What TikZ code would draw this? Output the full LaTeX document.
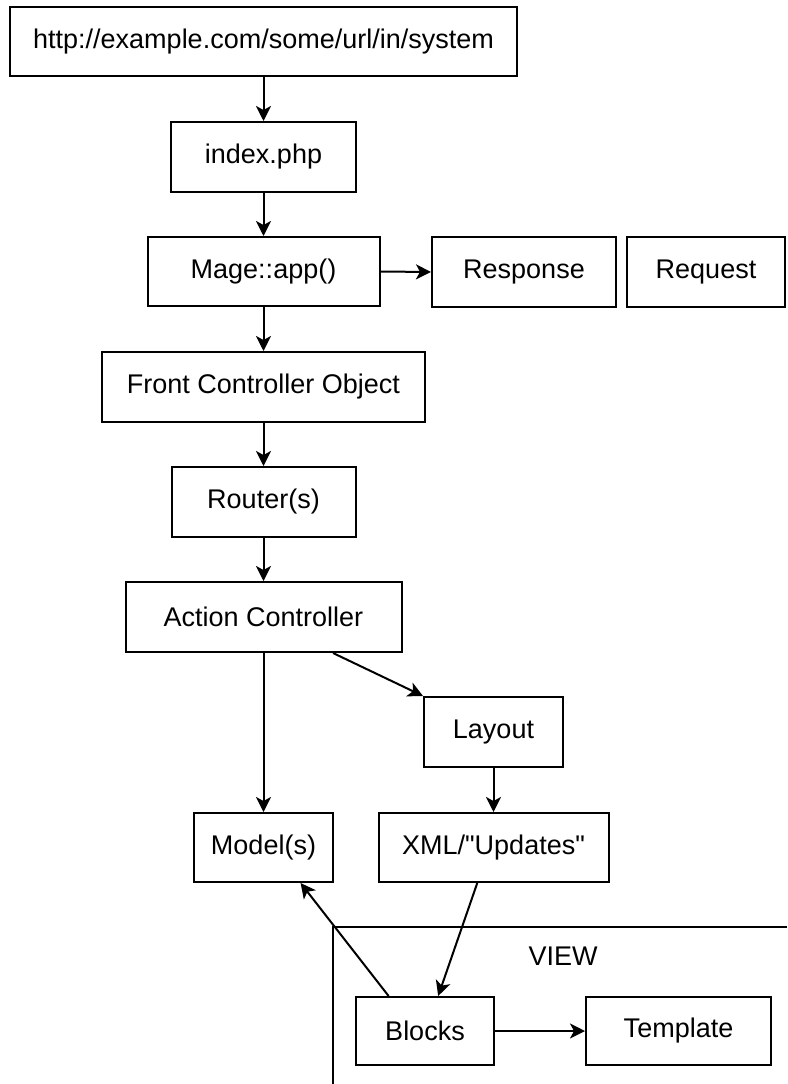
\documentclass[tikz,border=0pt]{standalone}
\usepackage{fontspec}
\setmainfont{Liberation Sans}[Ligatures=TeXOff]
\usetikzlibrary{arrows.meta,calc}
\tikzset{
  box/.style={draw=black, line width=2pt, inner sep=0pt, align=center,
    font=\fontsize{27}{32}\selectfont, text=black},
  arr/.style={line width=2pt, -{Stealth[length=15pt,width=15pt,inset=4pt]}},
  plain/.style={line width=2pt},
}
\begin{document}
\begin{tikzpicture}[x=1pt,y=-1pt]
\useasboundingbox[fill=white] (0,0) rectangle (787,1084);
% nodes
\node[box, minimum width=507pt, minimum height=69pt] (url) at (263.5,41.5) {http://example.com/some/url/in/system};
\node[box, minimum width=185pt, minimum height=70pt] (index) at (263.5,157) {index.php};
\node[box, minimum width=232pt, minimum height=69pt] (mage) at (263.5,271.5) {Mage::app()};
\node[box, minimum width=184pt, minimum height=70pt] (response) at (524,272) {Response};
\node[box, minimum width=158pt, minimum height=70pt] (request) at (706,272) {Request};
\node[box, minimum width=323pt, minimum height=70pt] (front) at (263.5,387) {Front Controller Object};
\node[box, minimum width=184pt, minimum height=70pt] (router) at (263.5,502) {Router(s)};
\node[box, minimum width=276pt, minimum height=70pt] (action) at (263.5,617) {Action Controller};
\node[box, minimum width=139pt, minimum height=70pt] (layout) at (493.5,732) {Layout};
\node[box, minimum width=139pt, minimum height=69pt] (model) at (263.5,847.5) {Model(s)};
\node[box, minimum width=230pt, minimum height=69pt] (xml) at (493.5,847.5) {XML/"Updates"};
\node[box, minimum width=138pt, minimum height=68pt] (blocks) at (425,1031) {Blocks};
\node[box, minimum width=185pt, minimum height=68pt] (template) at (678.5,1031) {Template};
% VIEW container (open at right and bottom)
\coordinate (viewtr) at (787,927);
\coordinate (viewtl) at (333,927);
\coordinate (viewbl) at (333,1084);
\draw[plain] (viewtr) -- (viewtl) -- (viewbl);
\node[font=\fontsize{27}{32}\selectfont, text=black] (viewlabel) at (563,956) {VIEW};
% connectors
\draw[arr] (url.south) -- (index.north);
\draw[arr] (index.south) -- (mage.north);
\draw[arr] (mage.east) -- (response.west);
\draw[arr] (mage.south) -- (front.north);
\draw[arr] (front.south) -- (router.north);
\draw[arr] (router.south) -- (action.north);
\draw[arr] (action.south) -- (model.north);
\draw[arr] ($(action.south west)!0.75!(action.south east)$) -- (layout.north west);
\draw[arr] (layout.south) -- (xml.north);
\draw[arr] ($(xml.south west)!0.43!(xml.south east)$) -- ($(blocks.north west)!0.594!(blocks.north east)$);
\draw[arr] ($(blocks.north west)!0.24!(blocks.north east)$) -- ($(model.south west)!0.763!(model.south east)$);
\draw[arr] (blocks.east) -- (template.west);
\end{tikzpicture}
\end{document}
